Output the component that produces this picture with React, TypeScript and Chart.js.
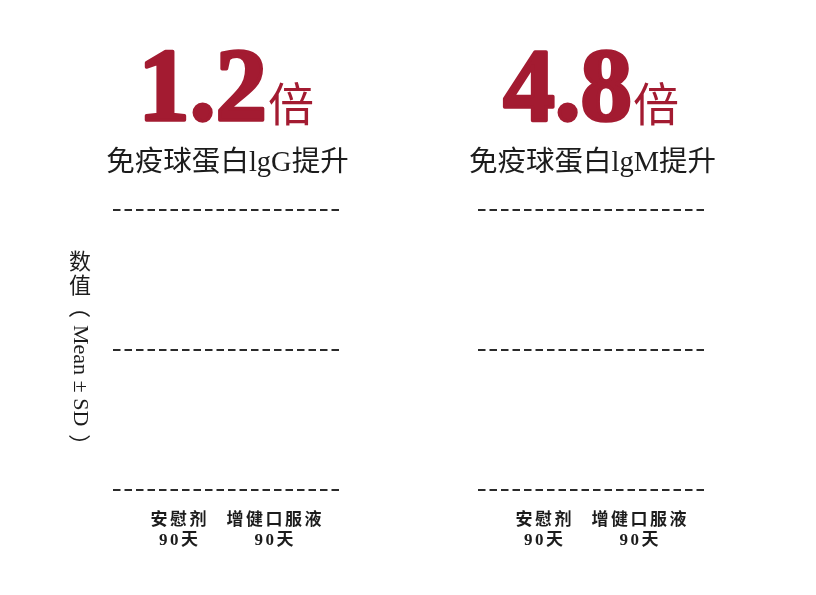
import { useEffect, useRef } from "react";
import { Chart, registerables } from "chart.js";

Chart.register(...registerables);

// ---- data ----
const categories: string[][] = [["安慰剂", "90天"], ["增健口服液", "90天"]];
const categoryPositions = [0, 1];
const igGValues: (number | null)[] = [null, null];
const igMValues: (number | null)[] = [null, null];
const foldChanges = ["1.2", "4.8"];
const foldUnit = "倍";
const panelTitles = ["免疫球蛋白lgG提升", "免疫球蛋白lgM提升"];
const yTitleUpright = ["数", "值"];
const yTitleRotated = ["（", "Mean ± SD", "）"];
const gridTickValues = [0, 1, 2];

// ---- styles ----
const RED = "#a31b31";
const TEXT = "#1c1c1c";
const SERIF = "'Liberation Serif', 'Noto Sans CJK SC', serif";
const CJK = "'Noto Sans CJK SC', sans-serif";

function makeConfig(
  values: (number | null)[],
  fold: string,
  title: string,
  showYTitle: boolean,
  padLeft: number,
  padRight: number
): any {
  const textPlugin = {
    id: "panelText" + (showYTitle ? "A" : "B"),
    beforeDraw(chart: any) {
      chart.ctx.letterSpacing = "2.5px";
    },
    beforeDatasetsDraw(chart: any) {
      chart.ctx.letterSpacing = "0px";
    },
    afterDraw(chart: any) {
      const ctx = chart.ctx;
      const area = chart.chartArea;
      const cx = (area.left + area.right) / 2 - 2;
      ctx.save();
      ctx.letterSpacing = "0px";
      // big fold-change title
      ctx.textBaseline = "alphabetic";
      ctx.textAlign = "left";
      const numFont = `bold 103px 'Liberation Serif', serif`;
      const unitFont = `46px ${CJK}`;
      ctx.font = numFont;
      const wNum = ctx.measureText(fold).width;
      ctx.font = unitFont;
      const wUnit = ctx.measureText(foldUnit).width;
      const x0 = cx - (wNum + wUnit) / 2;
      ctx.fillStyle = RED;
      ctx.strokeStyle = RED;
      ctx.lineJoin = "round";
      ctx.lineWidth = 3.5;
      ctx.font = numFont;
      ctx.fillText(fold, x0, 120);
      ctx.strokeText(fold, x0, 120);
      ctx.font = unitFont;
      ctx.fillText(foldUnit, x0 + wNum + 1, 121);
      // subtitle
      ctx.fillStyle = TEXT;
      ctx.textAlign = "center";
      ctx.textBaseline = "middle";
      ctx.font = `28.5px ${SERIF}`;
      ctx.fillText(title, cx + 2, 164);
      // vertical y title
      if (showYTitle) {
        const tx = 80;
        ctx.font = `22px ${SERIF}`;
        ctx.textAlign = "center";
        ctx.textBaseline = "middle";
        ctx.fillText(yTitleUpright[0], tx, 263);
        ctx.fillText(yTitleUpright[1], tx, 287);
        ctx.translate(tx, 300);
        ctx.rotate(Math.PI / 2);
        ctx.textAlign = "left";
        ctx.font = `22px ${CJK}`;
        ctx.fillText(yTitleRotated[0], -4, 0);
        ctx.font = `22px 'Liberation Serif', serif`;
        ctx.fillText(yTitleRotated[1], 25, 0);
        const wMid = ctx.measureText(yTitleRotated[1]).width;
        ctx.font = `22px ${CJK}`;
        ctx.fillText(yTitleRotated[2], 25 + wMid + 8, 0);
      }
      ctx.restore();
    },
  };

  return {
    type: "bar",
    data: {
      datasets: [
        {
          data: categoryPositions.map((x, i) => ({ x, y: values[i] })),
          backgroundColor: RED,
        },
      ],
    },
    options: {
      animation: false,
      responsive: false,
      layout: { padding: { left: padLeft, right: padRight, top: 210, bottom: 45 } },
      plugins: { legend: { display: false }, tooltip: { enabled: false }, title: { display: false } },
      scales: {
        x: {
          type: "linear",
          offset: false,
          bounds: "data",
          min: -0.7,
          max: 1.7,
          afterBuildTicks: (s: any) => {
            s.ticks = categoryPositions.map((v) => ({ value: v }));
          },
          afterFit: (s: any) => {
            s.height = 60;
          },
          grid: { display: false, drawTicks: false },
          border: { display: false },
          ticks: {
            autoSkip: false,
            maxRotation: 0,
            padding: 21,
            color: TEXT,
            font: { family: SERIF, size: 17, weight: "bold", lineHeight: 1.18 },
            callback: (v: any) => categories[categoryPositions.indexOf(Number(v))] ?? "",
          },
        },
        y: {
          min: gridTickValues[0],
          max: gridTickValues[gridTickValues.length - 1],
          afterBuildTicks: (s: any) => {
            s.ticks = gridTickValues.map((v) => ({ value: v }));
          },
          afterFit: (s: any) => {
            s.width = 0;
          },
          ticks: { display: false },
          grid: { color: "#2b2b2b", lineWidth: 2, drawTicks: false },
          border: { display: false, dash: [7.5, 4] },
        },
      },
    },
    plugins: [textPlugin],
  };
}

function Panel({ cfg, left }: { cfg: () => any; left: number }) {
  const ref = useRef<HTMLCanvasElement>(null);
  useEffect(() => {
    const chart = new Chart(ref.current as HTMLCanvasElement, cfg());
    return () => chart.destroy();
  }, []);
  return (
    <canvas
      ref={ref}
      width={408}
      height={595}
      style={{ position: "absolute", left, top: 0, width: 408, height: 595 }}
    />
  );
}

export default function App() {
  return (
    <div style={{ position: "fixed", left: 0, top: 0, width: 816, height: 595, background: "#fff" }}>
      <Panel left={0} cfg={() => makeConfig(igGValues, foldChanges[0], panelTitles[0], true, 113, 66)} />
      <Panel left={408} cfg={() => makeConfig(igMValues, foldChanges[1], panelTitles[1], false, 70, 109)} />
    </div>
  );
}
